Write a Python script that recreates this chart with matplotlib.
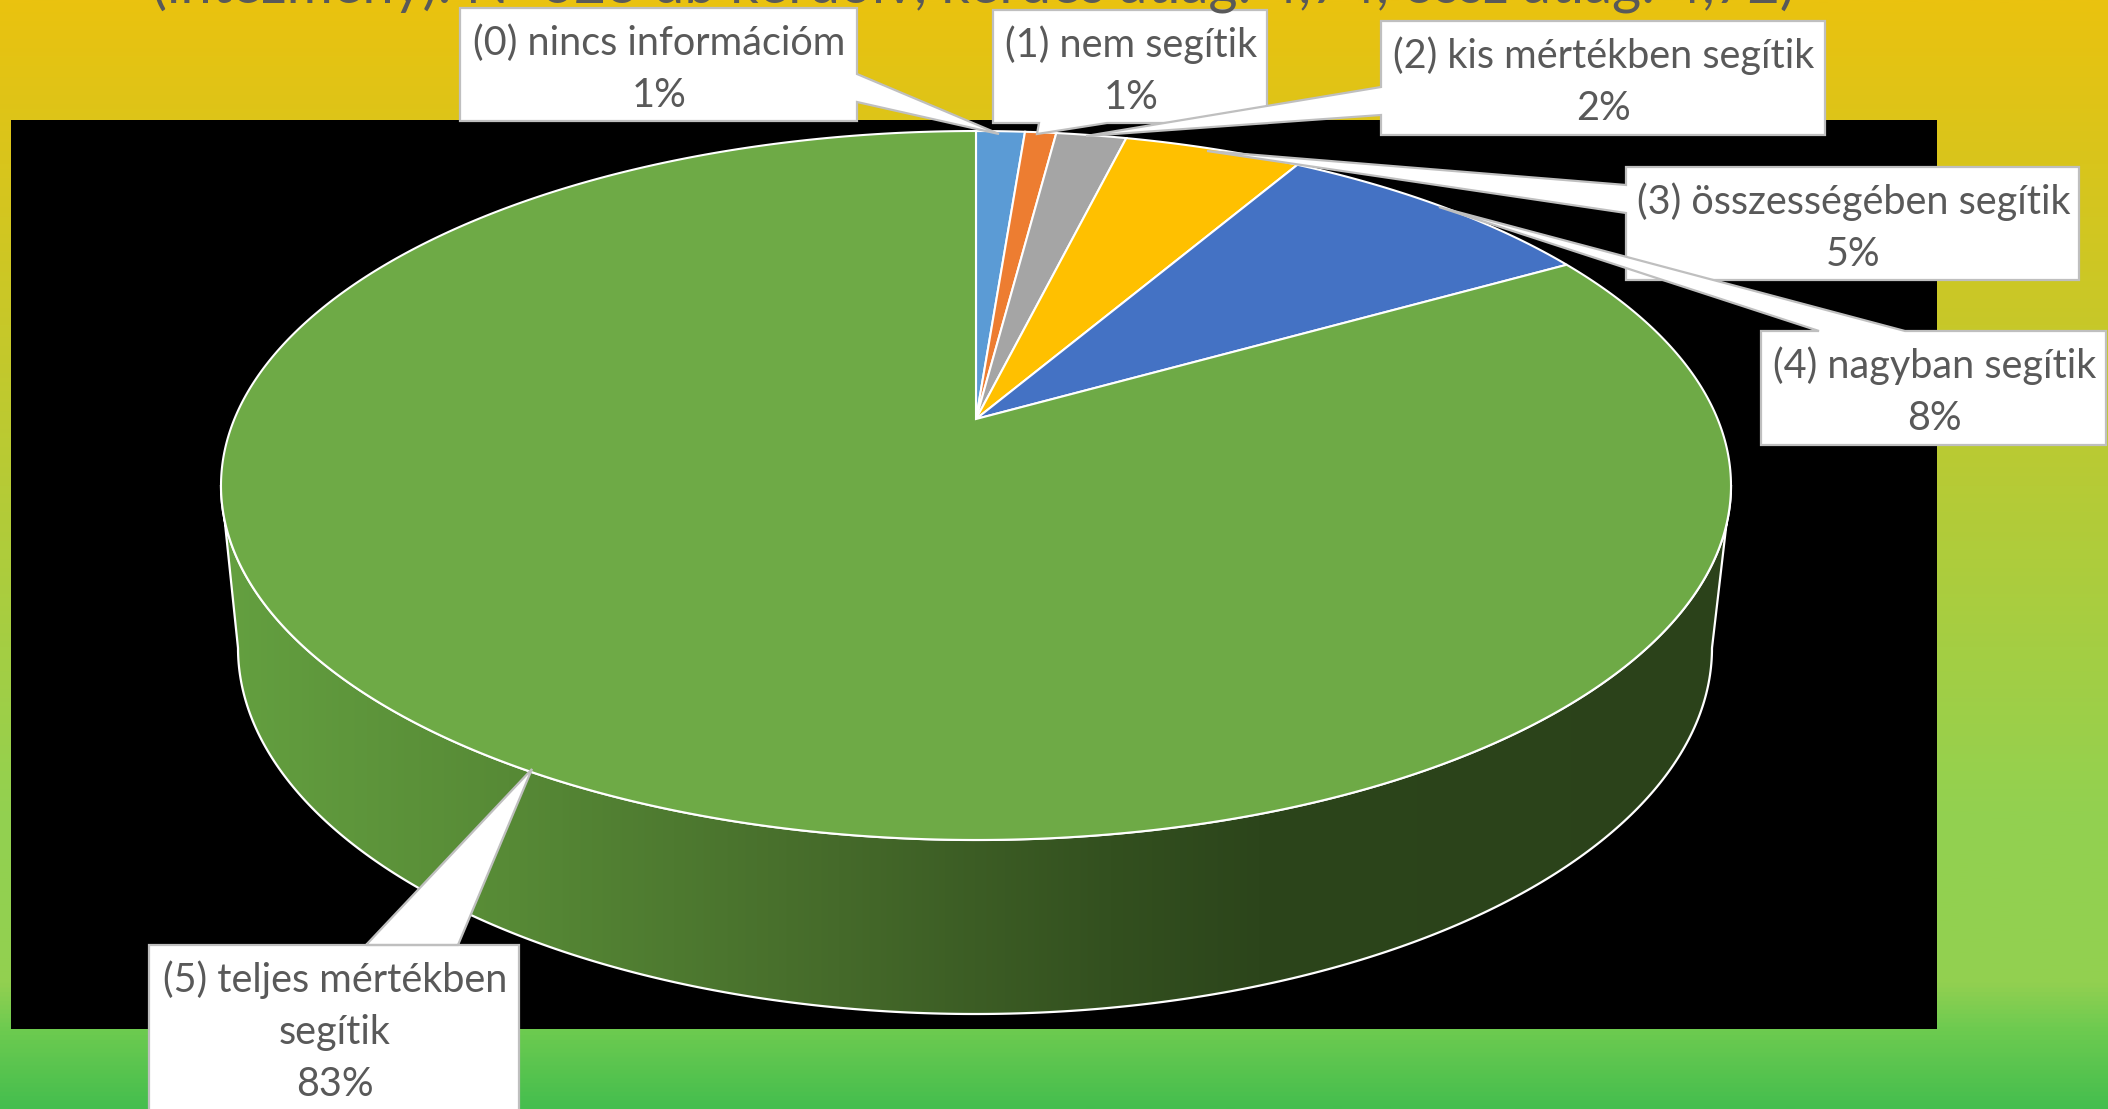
import numpy as np
import matplotlib.pyplot as plt
from matplotlib.colors import LinearSegmentedColormap
from matplotlib.patches import Polygon, Rectangle

plt.rcParams['font.family'] = ['Lato', 'DejaVu Sans']

W, H = 2108, 1109

title = "(intézmény): N=623 db kérdőív, kérdés átlag: 4,74, össz átlag: 4,72)"
categories = [
    "(0) nincs információm",
    "(1) nem segítik",
    "(2) kis mértékben segítik",
    "(3) összességében segítik",
    "(4) nagyban segítik",
    "(5) teljes mértékben\nsegítik",
]
# clockwise from 12 o'clock
values = [1.25, 0.8, 1.8, 4.55, 8.4, 83.2]
colors = ["#5B9BD5", "#ED7D31", "#A5A5A5", "#FFC000", "#4472C4", "#6EAA46"]

# label boxes: x0, x1, y0, y1 and the callout pointer (base 1, tip, base 2)
boxes = [
    (460, 857, 8, 121),
    (993, 1267, 10, 123),
    (1381, 1825, 21, 135),
    (1626, 2079, 167, 280),
    (1761, 2106, 331, 445),
    (149, 519, 945, 1125),
]
pointers = [
    ((857, 74), (999, 134), (857, 102)),
    ((1107, 123), (1037, 134), (1039, 123)),
    ((1381, 87), (1086, 136), (1381, 115)),
    ((1626, 185), (1207, 151), (1626, 213)),
    ((1905, 331), (1439, 207), (1819, 331)),
    ((366, 945), (532, 769), (458, 945)),
]
draw_order = [0, 1, 3, 2, 4, 5]

# pie geometry in pixels, the top face is a circle seen in perspective
apex_x, apex_y = 976, 419
persp = 0.1876
top_a, top_b = 741.6, 342.0
low_cx, low_cy, low_rx, low_ry = 975, 648, 737, 366


def top_face(theta):
    u, v = np.sin(theta), np.cos(theta)
    w = 1 + persp * v
    return apex_x + top_a * u / w, apex_y - top_b * v / w


fig = plt.figure(figsize=(W / 100, H / 100), dpi=100)
ax = fig.add_axes([0, 0, 1, 1])
ax.set_xlim(0, W)
ax.set_ylim(H, 0)
ax.axis('off')

# slide background
bg_cmap = LinearSegmentedColormap.from_list('bg', [
    (0, "#EAC20F"), (810 / H, "#93D150"), (985 / H, "#92D050"),
    (1030 / H, "#6ECB50"), (1, "#45BE4E")])
ax.imshow(np.linspace(0, 1, 512).reshape(-1, 1), cmap=bg_cmap, extent=(0, W, H, 0),
          aspect='auto', zorder=0)
ax.add_patch(Rectangle((11, 120), 1926, 909, fc='black', ec='none', zorder=1))

# side wall, starts where the top face is widest
t = np.linspace(0, np.pi, 300)
tt = np.linspace(0, 2 * np.pi, 1440, endpoint=False)
xs, ys = top_face(tt)
right_i, left_i = np.argmax(xs), np.argmin(xs)
idx = np.arange(right_i, left_i + 1)
low_x = low_cx + low_rx * np.cos(t)
low_y = low_cy + low_ry * np.sin(t)
wall_xy = np.column_stack([np.r_[low_x, xs[idx][::-1]], np.r_[low_y, ys[idx][::-1]]])
wall = Polygon(wall_xy, closed=True, fc='none', ec='none', zorder=2)
ax.add_patch(wall)
wall_cmap = LinearSegmentedColormap.from_list('wall', [
    (0, "#64A040"), (0.19, "#578A36"), (0.41, "#456A2A"), (0.59, "#33501F"),
    (0.69, "#2C451B"), (1, "#2B421A")])
grad = ax.imshow(np.linspace(0, 1, 512).reshape(1, -1), cmap=wall_cmap,
                 extent=(220, 1730, 1030, 400), aspect='auto', zorder=2)
grad.set_clip_path(wall)
ax.set_xlim(0, W)
ax.set_ylim(H, 0)
ax.add_patch(Polygon(wall_xy, closed=True, fc='none', ec='white', lw=1.6, zorder=3))

# slices of the top face
start = 0.0
for val, col in zip(values, colors):
    stop = start + val / sum(values) * 2 * np.pi
    n = max(int(val * 6), 8)
    ang = np.linspace(start, stop, n)
    px, py = top_face(ang)
    pts = np.column_stack([np.r_[apex_x, px], np.r_[apex_y, py]])
    ax.add_patch(Polygon(pts, closed=True, fc=col, ec='white', lw=1.5, zorder=4))
    start = stop

# callouts
for i in draw_order:
    x0, x1, y0, y1 = boxes[i]
    b1, tip, b2 = pointers[i]
    if b1[0] == x1:      # pointer on the right side
        path = [(x0, y0), (x1, y0), b1, tip, b2, (x1, y1), (x0, y1)]
    elif b1[0] == x0:    # left side
        path = [(x0, y0), (x1, y0), (x1, y1), (x0, y1), b2, tip, b1]
    elif b1[1] == y1:    # bottom
        path = [(x0, y0), (x1, y0), (x1, y1), b1, tip, b2, (x0, y1)]
    else:                # top
        path = [(x0, y0), b2, tip, b1, (x1, y0), (x1, y1), (x0, y1)]
    ax.add_patch(Polygon(path, closed=True, fc='white', ec='#BFBFBF', lw=1.6,
                         zorder=5 + i * 0.1, clip_on=False))
    lines = categories[i].split("\n") + [f"{round(values[i])}%"]
    for k, line in enumerate(lines):
        ax.text((x0 + x1) / 2 + 1, y0 + 47 + 52 * k, line, ha='center', va='baseline',
                fontsize=28.5, color='#595959', zorder=6)

ax.text(973, 3, title, ha='center', va='baseline', fontsize=40.3, color='#595959', zorder=6)

fig.savefig('out.png', dpi=100)
